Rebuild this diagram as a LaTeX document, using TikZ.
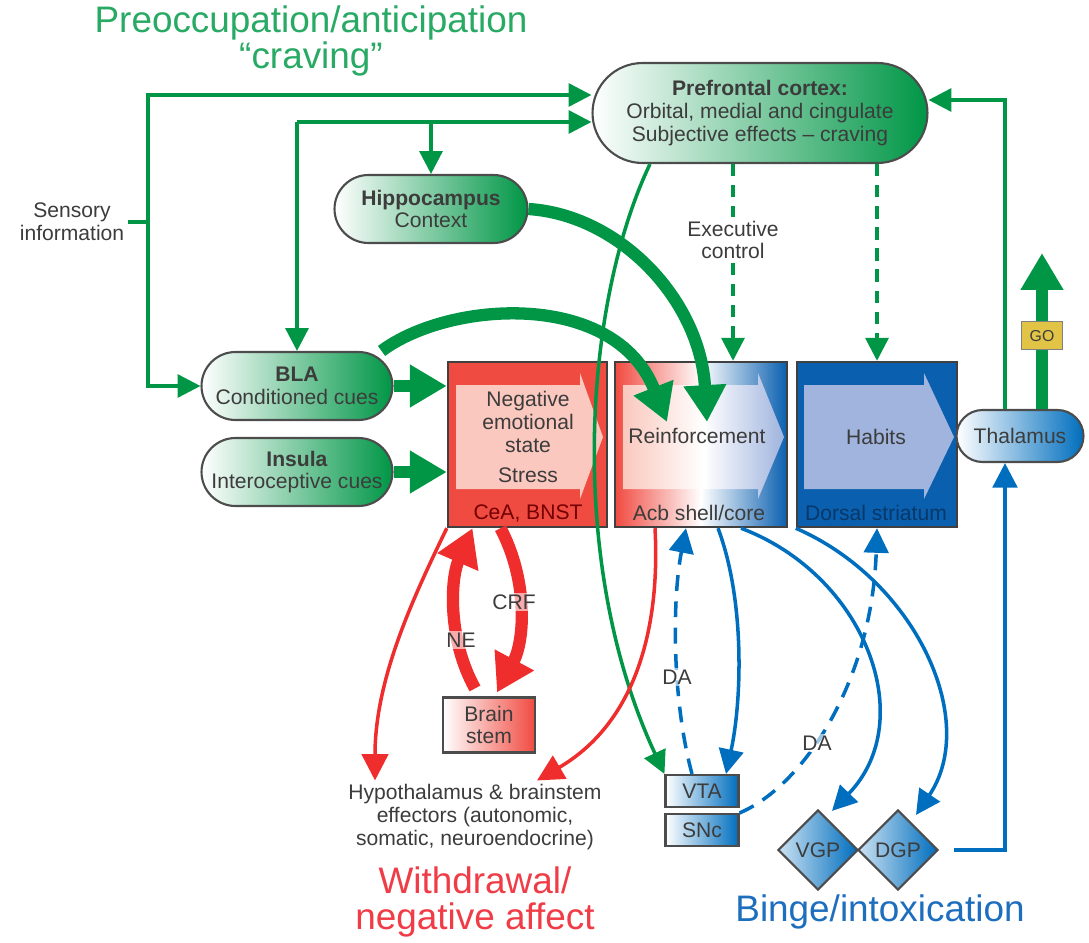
\documentclass[tikz,border=0pt]{standalone}
\usepackage{fontspec}
\setmainfont{Liberation Sans}
\usetikzlibrary{arrows.meta,shapes.geometric,calc}

\definecolor{grn}{RGB}{0,150,70}
\definecolor{titlegrn}{RGB}{40,170,100}
\definecolor{rd}{RGB}{240,45,45}
\definecolor{wdred}{RGB}{240,60,70}
\definecolor{blu}{RGB}{0,110,190}
\definecolor{bingeblu}{RGB}{30,110,190}
\definecolor{boxred}{RGB}{240,75,65}
\definecolor{lightred}{RGB}{250,200,190}
\definecolor{boxblu}{RGB}{10,95,175}
\definecolor{lightblu}{RGB}{160,180,222}
\definecolor{txt}{RGB}{60,60,60}
\definecolor{gold}{RGB}{225,195,70}

\newcommand{\lblfont}{\fontsize{12}{13}\selectfont}
\newcommand{\headfont}{\fontsize{21}{20}\selectfont}

\tikzstyle{area}=[rectangle, rounded corners=0.68cm, draw=black!70, line width=1.2pt, left color=white, right color=grn, text=txt, align=center, font=\lblfont, inner sep=1pt]
\tikzstyle{stage}=[rectangle, draw=black!75, line width=1.4pt, minimum height=3.3cm, inner sep=0pt]
\tikzstyle{note}=[text=txt, align=center, font=\lblfont, inner sep=2pt]
\tikzstyle{tag}=[note, fill=white, fill opacity=0.6, text opacity=1, inner sep=1pt]
\tikzstyle{cell}=[rectangle, draw=black!70, line width=1.2pt, left color=white, right color=blu, minimum width=1.46cm, minimum height=0.64cm, inner sep=0pt, text=txt, font=\lblfont]
\tikzstyle{pallid}=[diamond, draw=black!70, line width=1.2pt, left color=blu!20, right color=blu, minimum size=1.6cm, inner sep=0pt, text=txt, font=\lblfont]
\tikzstyle{gobox}=[rectangle, fill=gold, draw=black!50, line width=0.8pt, text=txt, font=\fontsize{9}{9}\selectfont, minimum width=0.82cm, minimum height=0.56cm, inner sep=0pt]
\tikzstyle{gline}=[draw=grn, line width=2pt]
\tikzstyle{garrow}=[gline, -{Triangle[length=13pt,width=13pt]}]
\tikzstyle{gdash}=[garrow, dash pattern=on 7pt off 5pt]
\tikzstyle{bigarrow}=[draw=grn, line width=7pt, -{Triangle[length=21pt,width=23pt]}]
\tikzstyle{barrow}=[draw=blu, line width=2pt, -{Triangle[length=14pt,width=14pt]}]
\tikzstyle{bdash}=[barrow, dash pattern=on 9pt off 6pt]
\tikzstyle{rarrow}=[draw=rd, line width=2pt, -{Triangle[length=15pt,width=15pt]}]
\tikzstyle{fatred}=[draw=rd, line width=7pt, -{Triangle[length=21pt,width=24pt]}]

\begin{document}
\begin{tikzpicture}[x=0.02cm,y=-0.02cm]
\useasboundingbox (0,0) rectangle (1089,943);

\node[note, text=titlegrn, font=\headfont] (title) at (311,41) {Preoccupation/anticipation\\“craving”};

% cortical and limbic inputs
\node[area, rounded corners=1cm, minimum width=6.7cm, minimum height=2cm] (pfc) at (760,113) {\textbf{Prefrontal cortex:}\\Orbital, medial and cingulate\\Subjective effects -- craving};
\node[area, minimum width=3.86cm, minimum height=1.36cm] (hippo) at (431,209) {\textbf{Hippocampus}\\Context};
\node[area, minimum width=3.82cm, minimum height=1.36cm] (bla) at (297,386) {\textbf{BLA}\\Conditioned cues};
\node[area, minimum width=3.82cm, minimum height=1.36cm] (insula) at (297,472) {\textbf{Insula}\\Interoceptive cues};
\node[note] (sens) at (72,222) {Sensory\\information};

% the three stages
\node[stage, fill=boxred, minimum width=3.18cm] (cea) at (527.5,444.5) {};
\node[stage, left color=boxred, right color=boxblu, middle color=white, minimum width=3.44cm] (acb) at (701,444.5) {};
\node[stage, fill=boxblu, minimum width=3.2cm] (dstr) at (877,444.5) {};
\fill[lightred] (456,385) -- (580,385) -- (580,373) -- (603,437) -- (580,499) -- (580,489) -- (456,489) -- cycle;
\shade[left color=lightred, right color=lightblu, middle color=white] (623,385) -- (758,385) -- (758,373) -- (784,437) -- (758,499) -- (758,489) -- (623,489) -- cycle;
\fill[lightblu] (804,385) -- (924,385) -- (924,373) -- (954,437) -- (924,499) -- (924,489) -- (804,489) -- cycle;

\node[note] (negtxt) at (528,422) {Negative\\emotional\\state};
\node[note] (stress) at (528,475) {Stress};
\node[note, text=red!45!black] (ceatxt) at (528,513) {CeA, BNST};
\node[note] (reinf) at (697,436) {Reinforcement};
\node[note] (acbtxt) at (699,513) {Acb shell/core};
\node[note] (habits) at (876,437) {Habits};
\node[note, text=boxblu!60!black] (dstrtxt) at (876,513) {Dorsal striatum};

\node[area, right color=blu, rounded corners=0.52cm, minimum width=2.54cm, minimum height=1.04cm] (thal) at (1020,436) {Thalamus};

% outputs
\node[note, rectangle, draw=black!70, line width=1.2pt, left color=white, right color=boxred, minimum width=1.84cm, minimum height=1.1cm] (bstem) at (489,725) {Brain\\stem};
\node[cell] (vta) at (702,791) {VTA};
\node[cell] (snc) at (702,830) {SNc};
\node[pallid] (vgp) at (818,850) {VGP};
\node[pallid] (dgp) at (898,850) {DGP};

\node[note] (exec) at (733,240) {Executive\\control};
\node[note] (hypo) at (475,817) {Hypothalamus \& brainstem\\effectors (autonomic,\\somatic, neuroendocrine)};
\node[note, text=wdred, font=\headfont] (wd) at (475,902) {Withdrawal/\\negative affect};
\node[note, text=bingeblu, font=\headfont] (binge) at (880,912) {Binge/intoxication};

\coordinate (sbus) at (148,222);
\coordinate (stop) at (148,95);
\coordinate (cbus) at (297,122);
\coordinate (thalup) at (1005,100);
\coordinate (goend) at (1042,253);
\coordinate (acbin1) at (667,422);
\coordinate (acbin2) at (707,422);

% green pathways
\draw[gline] (sens.east) -- (sbus);
\draw[garrow] (sbus) -- (stop) -- (pfc.west |- stop);
\draw[garrow] (sbus) |- (bla.west);
\draw[garrow] (cbus) -- (pfc.west |- cbus);
\draw[garrow] (cbus) -- (bla.north);
\draw[garrow] (hippo.north |- cbus) -- (hippo.north);
\draw[garrow] (thal.north -| thalup) -- (thalup) -- (pfc.east |- thalup);
\draw[bigarrow] (thal.north -| goend) -- (goend) node[gobox, pos=0.47] (go) {GO};

\draw[gline, dash pattern=on 7pt off 5pt] (exec |- pfc.south) -- (exec.north);
\draw[gdash] (exec.south) -- (exec |- acb.north);
\draw[gdash] (pfc.south -| dstr) -- (dstr.north);

\draw[garrow] ($(pfc.south)+(-110,0)$) .. controls (585,300) and (565,560) .. (vta.north west);

\draw[bigarrow] (bla.east) -- (bla -| cea.west);
\draw[bigarrow] (insula.east) -- (insula -| cea.west);
\draw[bigarrow] ($(bla.north east)+(-12,0)$) .. controls (450,300) and (615,290) .. (acbin1);
\draw[bigarrow] (hippo.east) .. controls (620,215) and (700,300) .. (acbin2);

% red pathways
\draw[rarrow] (cea.south west) .. controls (412,600) and (375,680) .. ($(hypo.north)+(-100,0)$);
\draw[rarrow] ($(acb.south)+(-46,0)$) .. controls (660,620) and (640,720) .. ($(hypo.north)+(62,0)$);
\draw[fatred] ($(bstem.north)+(-14,-8)$) .. controls (448,640) and (450,580) .. ($(cea.south)+(-55,0)$);
\draw[fatred] ($(cea.south)+(-27,0)$) .. controls (528,580) and (525,640) .. ($(bstem.north)+(8,-4)$);
\node[tag] (crf) at (514,602) {CRF};
\node[tag] (ne) at (461,640) {NE};

% blue pathways
\draw[bdash] ($(vta.north)+(-10,0)$) .. controls (672,700) and (672,600) .. ($(acb.south)+(-15,0)$);
\node[tag] (da1) at (677,677) {DA};
\draw[barrow] ($(acb.south)+(17,0)$) .. controls (745,600) and (742,700) .. ($(vta.north)+(24,0)$);
\draw[barrow] ($(acb.south)+(40,0)$) .. controls (865,575) and (920,720) .. ($(vgp.north)+(14,2)$);
\draw[barrow] (dstr.south west) .. controls (915,580) and (980,720) .. ($(dgp.north)+(18,6)$);
\draw[bdash] (snc.north east) .. controls (805,785) and (872,680) .. (dstr.south);
\node[tag] (da2) at (817,743) {DA};
\draw[barrow] ($(dgp.east)+(15,0)$) -| (thal.south -| thalup);
\end{tikzpicture}
\end{document}
